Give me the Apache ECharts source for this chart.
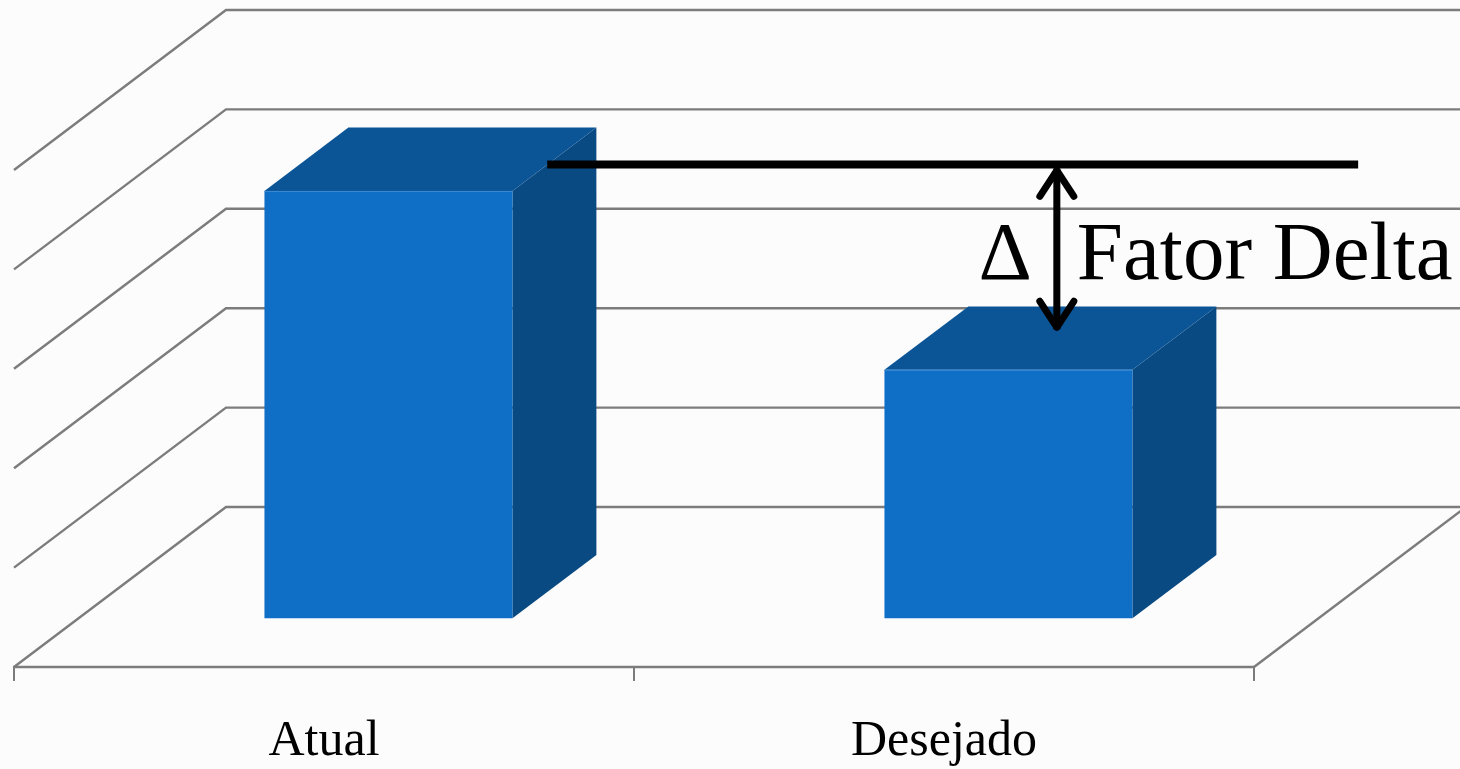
<!DOCTYPE html>
<html>
<head>
<meta charset="utf-8">
<style>
  html, body { margin: 0; padding: 0; background: #fcfcfc; }
  #chart { width: 1460px; height: 769px; }
</style>
<script src="https://cdn.jsdelivr.net/npm/echarts@6/dist/echarts.min.js"></script>
</head>
<body>
<div id="chart"></div>
<script>
// Data
const categories = ['Atual', 'Desejado'];
const values = [4.3, 2.5];
const yTicks = [0, 1, 2, 3, 4, 5];
const deltaLabel = 'Fator Delta';

// Oblique projection of the floor depth (pixels from front edge to back wall)
const DX = 212, DY = -160;
const BAR_FRONT = 0.304, BAR_DEPTH = 0.396, BAR_RATIO = 0.4;
const MID = 0.47;
const GRID_COLOR = '#7c7c7c';

const chart = echarts.init(document.getElementById('chart'), null, { renderer: 'canvas' });

// Back wall and left wall grid lines, plus the right floor edge
function renderWalls(params, api) {
  const cs = params.coordSys;
  const v = api.value(1);
  const y = api.coord([0, v])[1];
  const x0 = cs.x, x1 = cs.x + cs.width;
  const children = [{
    type: 'polyline',
    shape: { points: [[x0, y], [x0 + DX, y + DY], [x1 + DX, y + DY]] },
    style: { stroke: GRID_COLOR, lineWidth: 2.4, fill: null }
  }];
  if (v === 0) {
    children.push({
      type: 'line',
      shape: { x1: x1, y1: y, x2: x1 + DX, y2: y + DY },
      style: { stroke: GRID_COLOR, lineWidth: 2.4 }
    });
  }
  return { type: 'group', children: children };
}

// 3D box for each bar
function renderBar(params, api) {
  const i = api.value(0);
  const val = api.value(1);
  const base = api.coord([i, 0]);
  const top = api.coord([i, val]);
  const bw = api.size([1, 0])[0];
  const w = bw * BAR_RATIO;
  const fx = base[0] - w / 2 + DX * BAR_FRONT;
  const fy0 = base[1] + DY * BAR_FRONT;
  const fyt = top[1] + DY * BAR_FRONT;
  const ddx = DX * BAR_DEPTH, ddy = DY * BAR_DEPTH;
  return {
    type: 'group',
    children: [
      {
        type: 'polygon',
        shape: { points: [[fx + w, fyt], [fx + w + ddx, fyt + ddy], [fx + w + ddx, fy0 + ddy], [fx + w, fy0]] },
        style: { fill: '#0A4A83' }
      },
      {
        type: 'polygon',
        shape: { points: [[fx, fyt], [fx + w, fyt], [fx + w + ddx, fyt + ddy], [fx + ddx, fyt + ddy]] },
        style: { fill: '#0B5597' }
      },
      {
        type: 'rect',
        shape: { x: fx, y: fyt, width: w, height: fy0 - fyt },
        style: { fill: '#0F6EC5' }
      },
      {
        type: 'line',
        shape: { x1: fx, y1: fyt + 0.5, x2: fx + w, y2: fyt + 0.5 },
        style: { stroke: '#3B8AD4', lineWidth: 1 }
      }
    ]
  };
}

// Reference line at the current level and the delta arrow down to the target
function renderDelta(params, api) {
  const vCur = api.value(1);
  const vTgt = api.value(2);
  const bw = api.size([1, 0])[0];
  const c0 = api.coord([0, vCur]);
  const c1 = api.coord([1, vTgt]);
  const lineY = c0[1] + DY * MID;
  const xStart = c0[0] + 0.36 * bw;
  const xEnd = c1[0] + 0.668 * bw;
  const ax = c1[0] + 0.182 * bw;
  const aTop = lineY + 4;
  const aBot = c1[1] + DY * MID - 14;
  const hw = 17, hh = 28;
  const textY = (aTop + aBot) / 2 + 8;
  const stroke = { stroke: '#000', lineWidth: 7, lineCap: 'round', lineJoin: 'round', fill: null };
  return {
    type: 'group',
    children: [
      { type: 'line', shape: { x1: xStart, y1: lineY, x2: xEnd, y2: lineY }, style: { stroke: '#000', lineWidth: 8 } },
      { type: 'line', shape: { x1: ax, y1: aTop, x2: ax, y2: aBot }, style: { stroke: '#000', lineWidth: 7 } },
      { type: 'polyline', shape: { points: [[ax - hw, aTop + hh], [ax, aTop + 2], [ax + hw, aTop + hh]] }, style: stroke },
      { type: 'polyline', shape: { points: [[ax - hw, aBot - hh], [ax, aBot - 2], [ax + hw, aBot - hh]] }, style: stroke },
      {
        type: 'text',
        style: { text: 'Δ', x: ax - 25, y: textY, align: 'right', verticalAlign: 'middle',
                 font: '83px "Liberation Serif"', fill: '#000' }
      },
      {
        type: 'text',
        style: { text: deltaLabel, x: ax + 20, y: textY, align: 'left', verticalAlign: 'middle',
                 font: '83px "Liberation Serif"', fill: '#000' }
      }
    ]
  };
}

const option = {
  backgroundColor: '#fcfcfc',
  animation: false,
  grid: { left: 14, right: 206, top: 170, bottom: 102 },
  xAxis: {
    type: 'category',
    data: categories,
    boundaryGap: true,
    axisLine: { show: true, lineStyle: { color: GRID_COLOR, width: 2.4 } },
    axisTick: { show: true, length: 14, alignWithLabel: false, lineStyle: { color: GRID_COLOR, width: 2 } },
    axisLabel: { margin: 50, color: '#000', fontSize: 50, fontFamily: 'Liberation Serif' },
    splitLine: { show: false }
  },
  yAxis: {
    type: 'value',
    min: 0, max: 5, interval: 1,
    show: false
  },
  series: [
    {
      type: 'custom',
      name: 'walls',
      renderItem: renderWalls,
      data: yTicks.map(v => [0, v]),
      encode: { x: 0, y: 1 },
      clip: false,
      silent: true,
      z: 1
    },
    {
      type: 'custom',
      name: 'bars',
      renderItem: renderBar,
      data: categories.map((c, i) => [i, values[i]]),
      encode: { x: 0, y: 1 },
      clip: false,
      z: 2
    },
    {
      type: 'custom',
      name: 'delta',
      renderItem: renderDelta,
      data: [[0, values[0], values[1]]],
      encode: { x: 0, y: 1 },
      clip: false,
      silent: true,
      z: 3
    }
  ]
};

chart.setOption(option);
</script>
</body>
</html>
